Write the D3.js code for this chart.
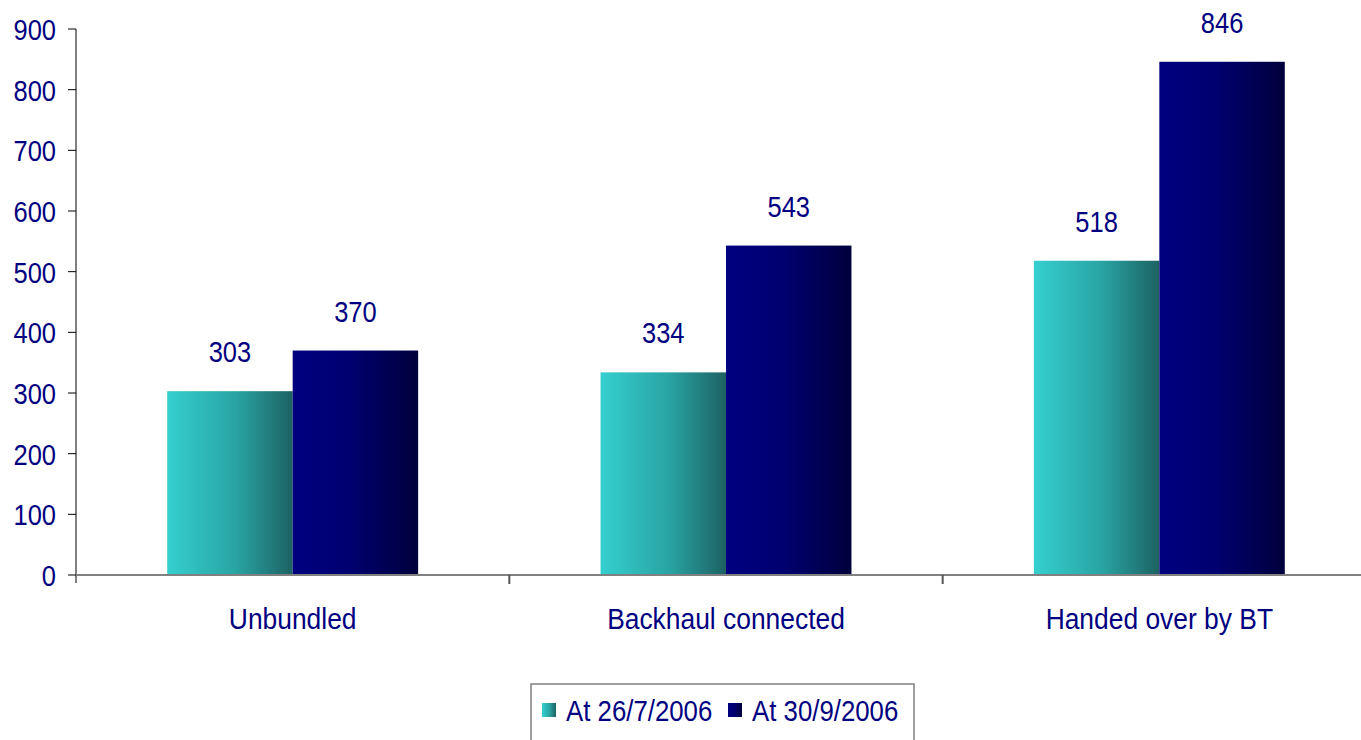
<!DOCTYPE html>
<html>
<head>
<meta charset="utf-8">
<script src="https://cdn.jsdelivr.net/npm/d3@7"></script>
<style>
  body { margin: 0; background: #fff; }
  svg text { font-family: "Liberation Sans", Arial, sans-serif; fill: #000080; }
</style>
</head>
<body>
<div id="chart"></div>
<script>
// data
const categories = ["Unbundled", "Backhaul connected", "Handed over by BT"];
const series = ["At 26/7/2006", "At 30/9/2006"];
const values_jul = [303, 334, 518];
const values_sep = [370, 543, 846];
const y_ticks = [0, 100, 200, 300, 400, 500, 600, 700, 800, 900];

// setup canvas
const width = 1361;
const height = 740;
const svg = d3.select("#chart").append("svg")
  .attr("width", width)
  .attr("height", height);

const x_left = 76, x_right = 1376, y_bottom = 575, y_top = 29;

const x0 = d3.scaleBand().domain(categories).range([x_left, x_right]);
const x1 = d3.scaleBand().domain(series).range([0, x0.bandwidth()]).paddingOuter(0.727);
const y = d3.scaleLinear().domain([0, 900]).range([y_bottom, y_top]);

// gradients
const defs = svg.append("defs");
const grads = [
  { id: "g0", stops: [["0%", "#35cfcf"], ["55%", "#29a3a3"], ["100%", "#1d6262"]] },
  { id: "g1", stops: [["0%", "#000080"], ["45%", "#000070"], ["100%", "#00003c"]] }
];
grads.forEach(function(g) {
  const lg = defs.append("linearGradient").attr("id", g.id)
    .attr("x1", "0%").attr("x2", "100%").attr("y1", "0%").attr("y2", "0%");
  g.stops.forEach(function(s) {
    lg.append("stop").attr("offset", s[0]).attr("stop-color", s[1]);
  });
});

// text in the picture is horizontally narrow, so squeeze it
function label(parent, x, yy, txt, size, anchor, squeeze) {
  return parent.append("text")
    .attr("transform", "translate(" + x + "," + yy + ") scale(" + (squeeze || 0.85) + ",1)")
    .attr("text-anchor", anchor)
    .style("font-size", size + "px")
    .text(txt);
}

// bars
const rows = categories.map(function(c, i) {
  return [
    { cat: c, s: series[0], v: values_jul[i], g: "g0" },
    { cat: c, s: series[1], v: values_sep[i], g: "g1" }
  ];
});
const groups = svg.append("g").selectAll("g")
  .data(rows)
  .enter().append("g")
  .attr("transform", function(d, i) { return "translate(" + x0(categories[i]) + ",0)"; });

groups.selectAll("rect")
  .data(function(d) { return d; })
  .enter().append("rect")
  .attr("x", function(d) { return x1(d.s); })
  .attr("y", function(d) { return y(d.v); })
  .attr("width", x1.bandwidth())
  .attr("height", function(d) { return y_bottom - y(d.v); })
  .attr("fill", function(d) { return "url(#" + d.g + ")"; });

// value labels
rows.forEach(function(r) {
  r.forEach(function(d) {
    label(svg, x0(d.cat) + x1(d.s) + x1.bandwidth() / 2, y(d.v) - 29, d.v, 30, "middle");
  });
});

// y axis
svg.append("line")
  .attr("x1", x_left).attr("x2", x_left)
  .attr("y1", y_top).attr("y2", y_bottom + 8)
  .attr("stroke", "#808080").attr("stroke-width", 2);
y_ticks.forEach(function(t) {
  svg.append("line")
    .attr("x1", x_left - 8).attr("x2", x_left)
    .attr("y1", y(t)).attr("y2", y(t))
    .attr("stroke", "#000").attr("stroke-width", 1);
  label(svg, 56, y(t) + 11, t, 30, "end");
});

// x axis
svg.append("line")
  .attr("x1", x_left).attr("x2", width)
  .attr("y1", y_bottom).attr("y2", y_bottom)
  .attr("stroke", "#808080").attr("stroke-width", 2);
categories.forEach(function(c, i) {
  if (i > 0) {
    svg.append("line")
      .attr("x1", x0(c)).attr("x2", x0(c))
      .attr("y1", y_bottom).attr("y2", y_bottom + 9)
      .attr("stroke", "#555").attr("stroke-width", 2);
  }
  label(svg, x0(c) + x0.bandwidth() / 2, 629, c, 30, "middle", 0.88);
});

// legend
const legend = svg.append("g");
legend.append("rect")
  .attr("x", 531).attr("y", 684)
  .attr("width", 383).attr("height", 70)
  .attr("fill", "none").attr("stroke", "#808080").attr("stroke-width", 1.5);
const legend_x = [542, 728];
series.forEach(function(s, i) {
  legend.append("rect")
    .attr("x", legend_x[i]).attr("y", 703)
    .attr("width", 14).attr("height", 14)
    .attr("fill", "url(#" + grads[i].id + ")");
  label(legend, legend_x[i] + 24, 721, s, 30, "start", 0.86);
});
</script>
</body>
</html>
